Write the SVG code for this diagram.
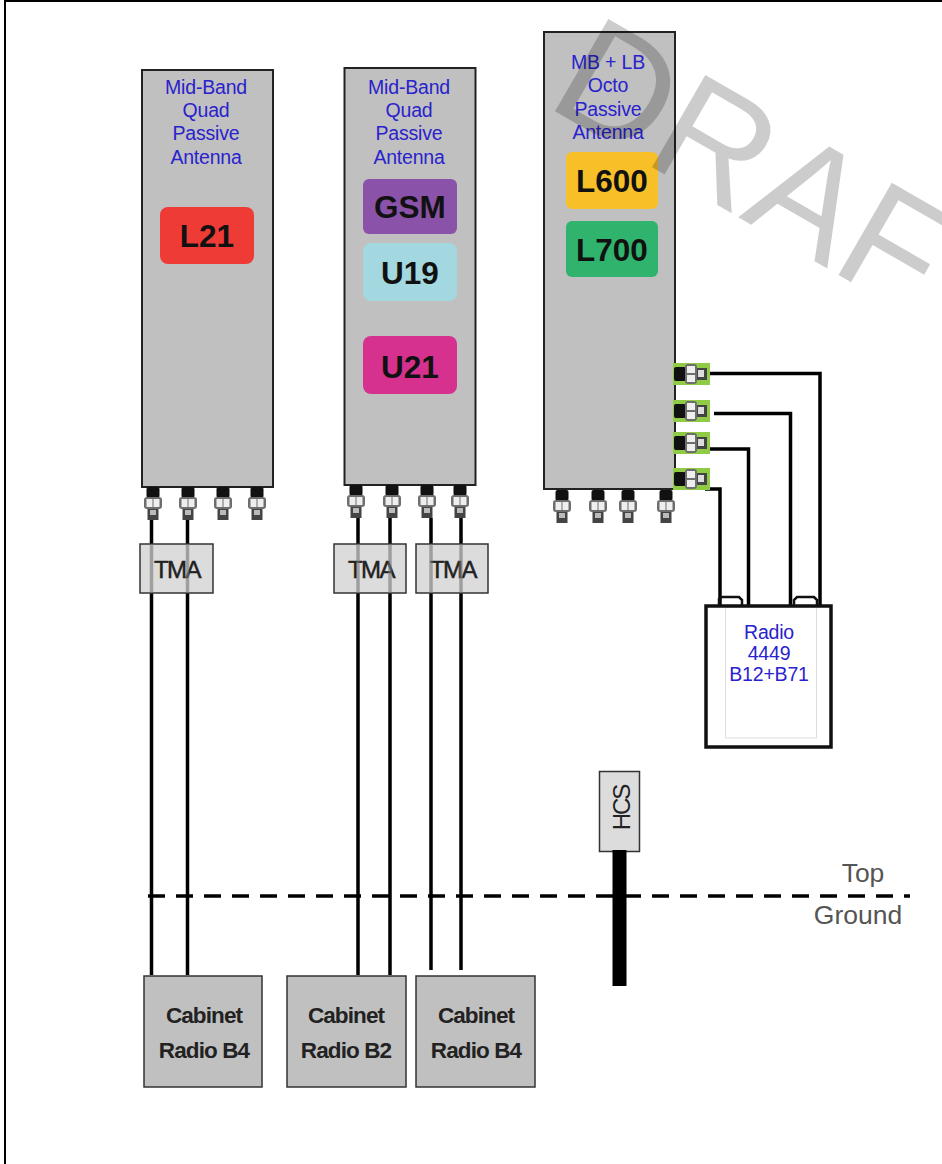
<svg xmlns="http://www.w3.org/2000/svg" width="942" height="1164" viewBox="0 0 942 1164">
<style>
.ant{fill:#c0c0c0;stroke:#222;stroke-width:2}
.blue{font:19.500px "Liberation Sans",Arial,sans-serif;fill:#2a22cc;text-anchor:middle;letter-spacing:-.2px}
.band{font:bold 31.500px "Liberation Sans",Arial,sans-serif;fill:#111;text-anchor:middle}
.tma{fill:#dcdcdc;stroke:#333;stroke-width:1.5}
.tmat{font:24px "Liberation Sans",Arial,sans-serif;fill:#222;stroke:#222;stroke-width:.5;text-anchor:middle;letter-spacing:-1.5px}
.cab{fill:#c0c0c0;stroke:#333;stroke-width:1.5}
.cabt{font:bold 22.500px "Liberation Sans",Arial,sans-serif;fill:#222;text-anchor:middle;letter-spacing:-.9px}
.w{fill:none;stroke:#000;stroke-width:3.5}
.lab{font:26.500px "Liberation Sans",Arial,sans-serif;fill:#555;text-anchor:middle}
</style>
<defs>
<g id="conn">
<rect x="-6.500" y="0" width="13" height="11" rx="2" fill="#111"/>
<rect x="-9" y="10" width="18" height="12" rx="3" fill="#6e6e6e"/>
<rect x="-6.500" y="12" width="6" height="8" fill="#eee"/>
<rect x=".5" y="12" width="6" height="8" fill="#eee"/>
<rect x="-5.500" y="22" width="11" height="11" fill="#444"/>
<rect x="-3" y="23" width="6" height="5" fill="#bbb"/>
</g>
<g id="sconn">
<rect x="0" y="0" width="37" height="22" fill="#8fcb45"/>
<rect x="1" y="4" width="12" height="14" rx="2" fill="#111"/>
<rect x="12" y="1" width="12" height="20" rx="3" fill="#6e6e6e"/>
<rect x="14" y="3" width="8" height="7" fill="#eee"/>
<rect x="14" y="12" width="8" height="7" fill="#eee"/>
<rect x="24" y="5" width="10" height="12" fill="#444"/>
<rect x="25" y="7" width="6" height="7" fill="#ddd"/>
</g>
</defs>
<rect width="942" height="1164" fill="#fff"/>
<path d="M942 1H5V1164" fill="none" stroke="#000" stroke-width="2"/>

<g id="connectors">
<path class="w" d="M151.500 518V975M187.500 518V975M358 518V975M390 518V975M431 518V970M461 518V970"/>
<path class="w" d="M708 373.500H820V605M714 413.500H790.500V605M702 449H748.500V605M705 489H720V605"/>
<path d="M148 896H910" fill="none" stroke="#000" stroke-width="3.500" stroke-dasharray="17 11"/>
</g>

<g id="antenna1">
<rect class="ant" x="142" y="70" width="131" height="417"/>
<text class="blue" x="206" y="94">Mid-Band</text><text class="blue" x="206" y="117">Quad</text><text class="blue" x="206" y="140">Passive</text><text class="blue" x="206" y="164">Antenna</text>
<rect x="160" y="207" width="94" height="57" rx="8" fill="#ef3b36"/><text class="band" x="207" y="247">L21</text>
<use href="#conn" x="153" y="487"/><use href="#conn" x="188" y="487"/><use href="#conn" x="223" y="487"/><use href="#conn" x="257" y="487"/>
</g>
<g id="antenna2">
<rect class="ant" x="344.500" y="68" width="131" height="417"/>
<text class="blue" x="409" y="94">Mid-Band</text><text class="blue" x="409" y="117">Quad</text><text class="blue" x="409" y="140">Passive</text><text class="blue" x="409" y="164">Antenna</text>
<rect x="363" y="179" width="94" height="55" rx="6" fill="#8a52a8"/><text class="band" x="410" y="218">GSM</text>
<rect x="363" y="243" width="94" height="58" rx="8" fill="#a3d8e0"/><text class="band" x="410" y="284">U19</text>
<rect x="363" y="336" width="94" height="58" rx="8" fill="#d6318f"/><text class="band" x="410" y="378">U21</text>
<use href="#conn" x="356" y="485"/><use href="#conn" x="392" y="485"/><use href="#conn" x="427" y="485"/><use href="#conn" x="460" y="485"/>
</g>
<g id="antenna3">
<rect class="ant" x="544" y="32" width="131" height="457"/>
<text class="blue" x="608" y="69">MB + LB</text><text class="blue" x="608" y="92">Octo</text><text class="blue" x="608" y="116">Passive</text><text class="blue" x="608" y="139">Antenna</text>
<rect x="566" y="152" width="92" height="57" rx="6" fill="#f7c028"/><text class="band" x="612" y="192">L600</text>
<rect x="566" y="221" width="92" height="56" rx="6" fill="#2fb36d"/><text class="band" x="612" y="261">L700</text>
<use href="#conn" x="562" y="490"/><use href="#conn" x="598" y="490"/><use href="#conn" x="628" y="490"/><use href="#conn" x="666" y="490"/>
<use href="#sconn" x="673" y="363"/><use href="#sconn" x="673" y="400"/><use href="#sconn" x="673" y="432"/><use href="#sconn" x="673" y="468"/>
</g>

<g id="tma1"><rect class="tma" x="140" y="544" width="73" height="49"/><text class="tmat" x="177" y="578">TMA</text></g>
<g id="tma2"><rect class="tma" x="334" y="544" width="72" height="49"/><text class="tmat" x="371" y="578">TMA</text></g>
<g id="tma3"><rect class="tma" x="416" y="544" width="72" height="49"/><text class="tmat" x="453" y="578">TMA</text></g>
<path d="M151.500 544V593M187.500 544V593M358 544V593M390 544V593M431 544V593M461 544V593" fill="none" stroke="#777" stroke-width="3.500" opacity=".6"/>

<g id="radio">
<path d="M719 605V599L722 597H739L742 600V605M794 605V600L797 597H814L817 600V605" fill="none" stroke="#111" stroke-width="2.500"/>
<rect x="725.500" y="607" width="91" height="131" fill="#fff" stroke="#ddd" stroke-width="1"/>
<rect x="706" y="606" width="125" height="141" fill="none" stroke="#111" stroke-width="3.500"/>
<text class="blue" x="769" y="639">Radio</text><text class="blue" x="769" y="660">4449</text><text class="blue" x="769" y="681">B12+B71</text>
</g>

<g id="hcs">
<rect x="599.500" y="771.500" width="40" height="80" fill="#dcdcdc" stroke="#333" stroke-width="1.500"/>
<text transform="translate(630 808) rotate(-90)" text-anchor="middle" style="font:24px 'Liberation Sans',Arial,sans-serif;letter-spacing:-2px" fill="#222">HCS</text>
<rect x="612.500" y="850" width="14" height="136" fill="#000"/>
</g>
<text class="lab" x="863" y="882">Top</text>
<text class="lab" x="858" y="924">Ground</text>

<g id="cab1"><rect class="cab" x="144" y="976" width="118" height="111"/><text class="cabt" x="204" y="1023">Cabinet</text><text class="cabt" x="204" y="1058">Radio B4</text></g>
<g id="cab2"><rect class="cab" x="287" y="976" width="119" height="111"/><text class="cabt" x="346" y="1023">Cabinet</text><text class="cabt" x="346" y="1058">Radio B2</text></g>
<g id="cab3"><rect class="cab" x="416" y="976" width="119" height="111"/><text class="cabt" x="476" y="1023">Cabinet</text><text class="cabt" x="476" y="1058">Radio B4</text></g>

<text id="watermark" transform="translate(544 105) rotate(30)" style="font:155px 'Liberation Sans',Arial,sans-serif" fill="#000" fill-opacity=".2">DRAF</text>
</svg>
